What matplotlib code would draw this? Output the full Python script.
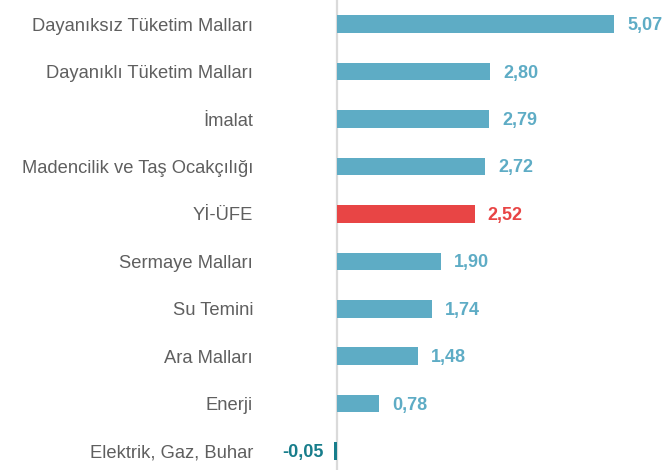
import matplotlib
matplotlib.use("Agg")
from matplotlib import pyplot as plt

categories = ["Dayanıksız Tüketim Malları", "Dayanıklı Tüketim Malları", "İmalat",
              "Madencilik ve Taş Ocakçılığı", "Yİ-ÜFE", "Sermaye Malları",
              "Su Temini", "Ara Malları", "Enerji", "Elektrik, Gaz, Buhar"]
values = [5.07, 2.80, 2.79, 2.72, 2.52, 1.90, 1.74, 1.48, 0.78, -0.05]
highlight = "Yİ-ÜFE"

BLUE = "#5eacc5"
RED = "#e84545"
DARK = "#177d8b"

plt.rcParams['font.family'] = ['Liberation Sans', 'DejaVu Sans']

fig = plt.figure(figsize=(6.62, 4.70), dpi=100)
ax = fig.add_axes([304 / 662, 0, 358 / 662, 1])

colors = []
for c, v in zip(categories, values):
    if c == highlight:
        colors.append(RED)
    elif v < 0:
        colors.append(DARK)
    else:
        colors.append(BLUE)

ypos = list(range(len(categories)))
ax.barh(ypos, values, height=0.37, color=colors, zorder=2)
ax.axvline(0, color="#dadada", lw=1.6, zorder=1)

for y, v, col in zip(ypos, values, colors):
    txt = f"{v:.2f}".replace(".", ",")
    if v >= 0:
        ax.text(v + 0.24, y + 0.03, txt, va="center", ha="left", color=col,
                fontsize=13, fontweight="bold")
    else:
        ax.text(v - 0.2, y + 0.03, txt, va="center", ha="right", color=col,
                fontsize=13, fontweight="bold")

ax.set_xlim(-0.6, 5.95)
ax.set_ylim(9.4, -0.51)
ax.set_yticks(ypos)
ax.set_yticklabels(categories, fontsize=13.2, color="#5f5f5f")
ax.tick_params(axis="y", length=0, pad=36.7)
ax.set_xticks([])
for s in ax.spines.values():
    s.set_visible(False)

fig.savefig("out.png", dpi=100)
